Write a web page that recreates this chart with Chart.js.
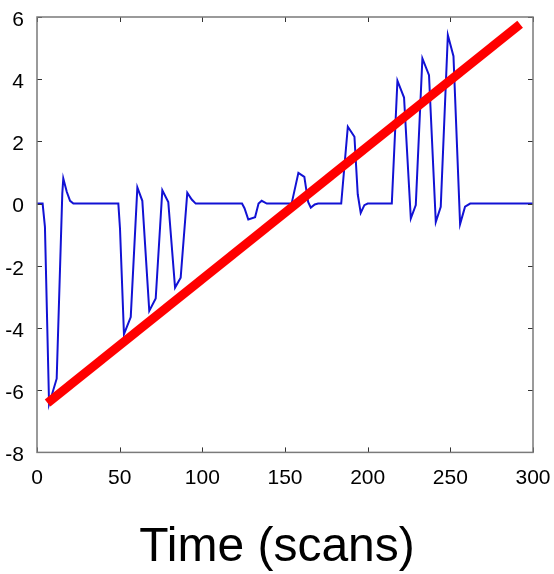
<!DOCTYPE html>
<html>
<head>
<meta charset="utf-8">
<title>Time (scans)</title>
<script src="https://cdn.jsdelivr.net/npm/chart.js@4.4.0/dist/chart.umd.min.js"></script>
<style>
  body { margin: 0; background: #fff; }
  canvas { display: block; }
</style>
</head>
<body>
<canvas id="chart" width="554" height="574"></canvas>
<script>
// blue signal (scan, value)
const scans = [0, 3.4, 4.8, 7.3, 11.9, 15.3, 15.9, 18, 20, 22,
  49.2, 50.2, 52.6, 56.7, 60.7, 63.7, 67.9, 71.8, 75.8, 79.4, 83.5, 86.9, 90.9, 93.6, 96,
  124, 125.5, 127.8, 131.9, 134, 135.9, 139,
  154, 158.1, 161.7, 164, 165.6, 168, 170,
  184, 188, 192, 194, 195.8, 198, 200,
  214.6, 218, 222, 226.1, 229.1, 233.1, 237.1, 241.2, 244.2, 248.5, 251.9, 255.9, 258.9, 262, 300];
const signal = [0, 0, -0.75, -6.45, -5.63, 0.32, 0.81, 0.38, 0.09, 0,
  0, -0.8, -4.2, -3.65, 0.52, 0.09, -3.45, -3.05, 0.43, 0.05, -2.7, -2.38, 0.35, 0.13, 0,
  0, -0.15, -0.51, -0.44, 0, 0.09, 0,
  0, 0.99, 0.86, 0.05, -0.13, -0.03, 0,
  0, 2.47, 2.15, 0.3, -0.3, -0.05, 0,
  0, 3.95, 3.41, -0.48, -0.05, 4.67, 4.13, -0.59, -0.1, 5.42, 4.74, -0.66, -0.1, 0, 0];

// red trend line end points
const trendX = [6.4, 292.2];
const trendY = [-6.41, 5.77];

const xTicks = [0, 50, 100, 150, 200, 250, 300];
const yTicks = [-8, -6, -4, -2, 0, 2, 4, 6];

const FONT = "'Liberation Sans', Arial, Helvetica, sans-serif";

const toPoints = (xs, ys) => xs.map((x, i) => ({ x: x, y: ys[i] }));

// grey box with inward ticks, like the original axes
const boxPlugin = {
  id: 'box',
  afterDatasetsDraw(chart) {
    const { ctx, chartArea: a, scales } = chart;
    ctx.save();
    ctx.strokeStyle = '#333';
    ctx.lineWidth = 1;
    ctx.beginPath();
    xTicks.forEach(v => {
      const px = Math.round(scales.x.getPixelForValue(v)) + 0.5;
      ctx.moveTo(px, a.bottom); ctx.lineTo(px, a.bottom - 5);
      ctx.moveTo(px, a.top); ctx.lineTo(px, a.top + 5);
    });
    yTicks.forEach(v => {
      const py = Math.round(scales.y.getPixelForValue(v)) + 0.5;
      ctx.moveTo(a.left, py); ctx.lineTo(a.left + 5, py);
      ctx.moveTo(a.right, py); ctx.lineTo(a.right - 5, py);
    });
    ctx.stroke();
    ctx.strokeStyle = '#7a7a7a';
    ctx.lineWidth = 1.5;
    ctx.strokeRect(a.left, a.top, a.right - a.left, a.bottom - a.top);
    ctx.restore();
  }
};

new Chart(document.getElementById('chart'), {
  type: 'line',
  data: {
    datasets: [
      {
        data: toPoints(trendX, trendY),
        borderColor: '#ff0000',
        borderWidth: 9,
        borderCapStyle: 'butt',
        pointRadius: 0
      },
      {
        data: toPoints(scans, signal),
        borderColor: '#1212d4',
        borderWidth: 2,
        pointRadius: 0,
        tension: 0
      }
    ]
  },
  options: {
    responsive: false,
    animation: false,
    layout: { padding: { top: 17, right: 0, left: 0, bottom: 0 } },
    plugins: {
      legend: { display: false },
      tooltip: { enabled: false },
      title: {
        display: true,
        position: 'bottom',
        text: 'Time (scans)',
        color: '#000',
        font: { family: FONT, size: 48, weight: 'normal' },
        padding: { top: 0, bottom: -3 }
      }
    },
    scales: {
      x: {
        type: 'linear',
        min: 0,
        max: 300,
        afterBuildTicks: s => { s.ticks = xTicks.map(v => ({ value: v })); },
        afterFit: s => {
          s.height = 67;
          s.paddingLeft = 0; s.paddingRight = 21;
        },
        grid: { display: false },
        border: { display: false },
        ticks: { color: '#000', padding: 5, maxRotation: 0, font: { family: FONT, size: 21 } }
      },
      y: {
        min: -8,
        max: 6,
        afterBuildTicks: s => { s.ticks = yTicks.map(v => ({ value: v })); },
        afterFit: s => {
          s.width = 37;
          s.paddingTop = 0; s.paddingBottom = 0;
        },
        grid: { display: false },
        border: { display: false },
        ticks: { color: '#000', padding: 5, labelOffset: 3, font: { family: FONT, size: 21 } }
      }
    }
  },
  plugins: [boxPlugin]
});
</script>
</body>
</html>
